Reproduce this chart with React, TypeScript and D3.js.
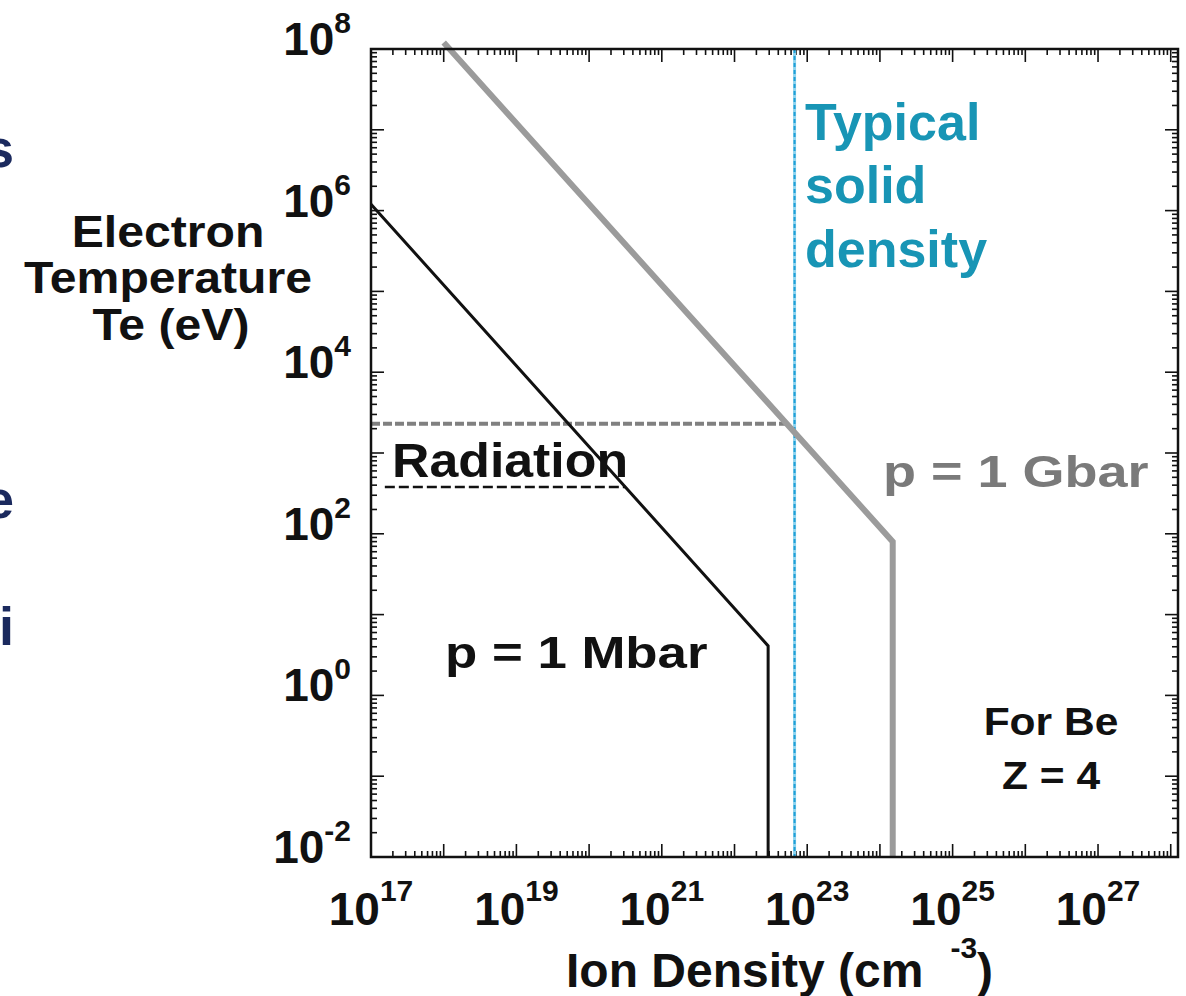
import React from 'react';
import * as d3 from 'd3';

const W = 1186;
const H = 996;

// Axis extents (ion density in cm^-3, electron temperature in eV)
const densityDomain: [number, number] = [1e17, 10 ** 28.1];
const tempDomain: [number, number] = [1e-2, 1e8];

const xTickExponents = [17, 19, 21, 23, 25, 27];
const yTickExponents = [8, 6, 4, 2, 0, -2];

// Isobars: [density, temperature]
const mbarCurve: [number, number][] = [
  [1e17, 1.2e6],
  [2.9e22, 4.1],
  [2.9e22, 1e-2],
];
const gbarCurve: [number, number][] = [
  [1.0e18, 1.2e8],
  [1.5e24, 80],
  [1.5e24, 1e-2],
];

// Radiation band bounds
const radiationUpper: [number, number][] = [
  [1e17, 2300],
  [5.2e22, 2300],
];
const radiationLower: [number, number][] = [
  [1.55e17, 380],
  [3.2e20, 380],
];

const solidDensity = 6.7e22;

const FONT = '"Liberation Sans", Arial, Helvetica, sans-serif';

const PLOT = { left: 371, right: 1178, top: 49, bottom: 857 };

const x = d3.scaleLog().domain(densityDomain).range([PLOT.left, PLOT.right]);
const y = d3.scaleLog().domain(tempDomain).range([PLOT.bottom, PLOT.top]);

const line = d3
  .line<[number, number]>()
  .x((d) => x(d[0]))
  .y((d) => y(d[1]));

type STProps = {
  x: number;
  y: number;
  size: number;
  sx?: number;
  anchor?: 'start' | 'middle' | 'end';
  fill?: string;
  children: React.ReactNode;
};

function StretchText({ x: tx, y: ty, size, sx = 1, anchor = 'start', fill = '#111', children }: STProps) {
  return (
    <text
      transform={`translate(${tx},${ty}) scale(${sx},1)`}
      textAnchor={anchor}
      fontSize={size}
      fontWeight="bold"
      fontFamily={FONT}
      fill={fill}
    >
      {children}
    </text>
  );
}

function logTicks(lo: number, hi: number, domain: [number, number]) {
  const out: { v: number; major: boolean }[] = [];
  for (const e of d3.range(lo, hi + 1)) {
    for (const m of d3.range(1, 10)) {
      const v = m * 10 ** e;
      if (v >= domain[0] * 0.999 && v <= domain[1] * 1.001) out.push({ v, major: m === 1 });
    }
  }
  return out;
}

export default function App() {
  const xt = logTicks(17, 28, densityDomain);
  const yt = logTicks(-2, 8, tempDomain);
  const MAJ = 13;
  const MIN = 6;

  return (
    <div style={{ position: 'fixed', left: 0, top: 0 }}>
      <svg width={W} height={H} viewBox={`0 0 ${W} ${H}`} style={{ display: 'block', background: '#fff' }}>
        <rect width={W} height={H} fill="#fff" />

        {/* slide text cut by the left edge */}
        <g fontFamily={FONT} fontWeight="bold" fontSize={54} fill="#1b2a5e" textAnchor="end">
          <text x={14} y={167}>s</text>
          <text x={14} y={518}>e</text>
          <text x={14} y={645}>ni</text>
        </g>

        {/* ticks */}
        <g stroke="#111" strokeWidth={1.6}>
          {xt.map((t, i) => (
            <g key={`x${i}`}>
              <line x1={x(t.v)} x2={x(t.v)} y1={PLOT.bottom} y2={PLOT.bottom - (t.major ? MAJ : MIN)} />
              <line x1={x(t.v)} x2={x(t.v)} y1={PLOT.top} y2={PLOT.top + (t.major ? MAJ : MIN)} />
            </g>
          ))}
          {yt.map((t, i) => (
            <g key={`y${i}`}>
              <line y1={y(t.v)} y2={y(t.v)} x1={PLOT.left} x2={PLOT.left + (t.major ? MAJ : MIN)} />
              <line y1={y(t.v)} y2={y(t.v)} x1={PLOT.right} x2={PLOT.right - (t.major ? MAJ : MIN)} />
            </g>
          ))}
        </g>

        {/* typical solid density */}
        <line
          x1={x(solidDensity)}
          x2={x(solidDensity)}
          y1={PLOT.top}
          y2={PLOT.bottom}
          stroke="#8fd3ee"
          strokeWidth={3}
        />
        <line
          x1={x(solidDensity)}
          x2={x(solidDensity)}
          y1={PLOT.top}
          y2={PLOT.bottom}
          stroke="#1f9fd6"
          strokeWidth={2}
          strokeDasharray="4 3"
        />

        {/* radiation band */}
        <path d={line(radiationUpper) ?? ''} fill="none" stroke="#808080" strokeWidth={4} strokeDasharray="9 3" />
        <path d={line(radiationLower) ?? ''} fill="none" stroke="#111" strokeWidth={2.5} strokeDasharray="10 4" />

        {/* isobars */}
        <path d={line(gbarCurve) ?? ''} fill="none" stroke="#9b9b9b" strokeWidth={6} strokeLinejoin="miter" />
        <path d={line(mbarCurve) ?? ''} fill="none" stroke="#111" strokeWidth={3} strokeLinejoin="miter" />

        {/* frame */}
        <rect
          x={PLOT.left}
          y={PLOT.top}
          width={PLOT.right - PLOT.left}
          height={PLOT.bottom - PLOT.top}
          fill="none"
          stroke="#111"
          strokeWidth={2.5}
        />

        {/* tick labels */}
        <g fontFamily={FONT} fontWeight="bold" fill="#111">
          {xTickExponents.map((e) => (
            <text key={`xl${e}`} x={x(10 ** e)} y={925} textAnchor="middle" fontSize={46}>
              10
              <tspan dy={-24} fontSize={30}>{e}</tspan>
            </text>
          ))}
          {yTickExponents.map((e) => (
            <text key={`yl${e}`} x={351} y={y(10 ** e) + 6} textAnchor="end" fontSize={46}>
              10
              <tspan dy={-22} fontSize={30}>{e}</tspan>
            </text>
          ))}
        </g>

        {/* axis titles */}
        <StretchText x={168} y={247} size={45} sx={1.07} anchor="middle">Electron</StretchText>
        <StretchText x={168} y={293} size={45} sx={1.07} anchor="middle">Temperature</StretchText>
        <StretchText x={171} y={340} size={45} sx={1.07} anchor="middle">Te (eV)</StretchText>

        <text x={566} y={987} fontFamily={FONT} fontWeight="bold" fontSize={48} fill="#111">
          Ion Density (cm
          <tspan dx={27} dy={-29} fontSize={30}>-3</tspan>
          <tspan dy={29} fontSize={48}>)</tspan>
        </text>

        {/* annotations */}
        <StretchText x={392} y={477} size={48} sx={1.08}>Radiation</StretchText>
        <StretchText x={445} y={668} size={44} sx={1.2}>p = 1 Mbar</StretchText>
        <StretchText x={883} y={487} size={45} sx={1.2} fill="#7a7a7a">p = 1 Gbar</StretchText>

        <g fill="#1895b5">
          <StretchText x={805} y={140} size={52} fill="#1895b5">Typical</StretchText>
          <StretchText x={805} y={203} size={52} fill="#1895b5">solid</StretchText>
          <StretchText x={805} y={267} size={52} fill="#1895b5">density</StretchText>
        </g>

        <StretchText x={1051} y={735} size={38} sx={1.12} anchor="middle">For Be</StretchText>
        <StretchText x={1051} y={789} size={38} sx={1.12} anchor="middle">Z = 4</StretchText>
      </svg>
    </div>
  );
}
